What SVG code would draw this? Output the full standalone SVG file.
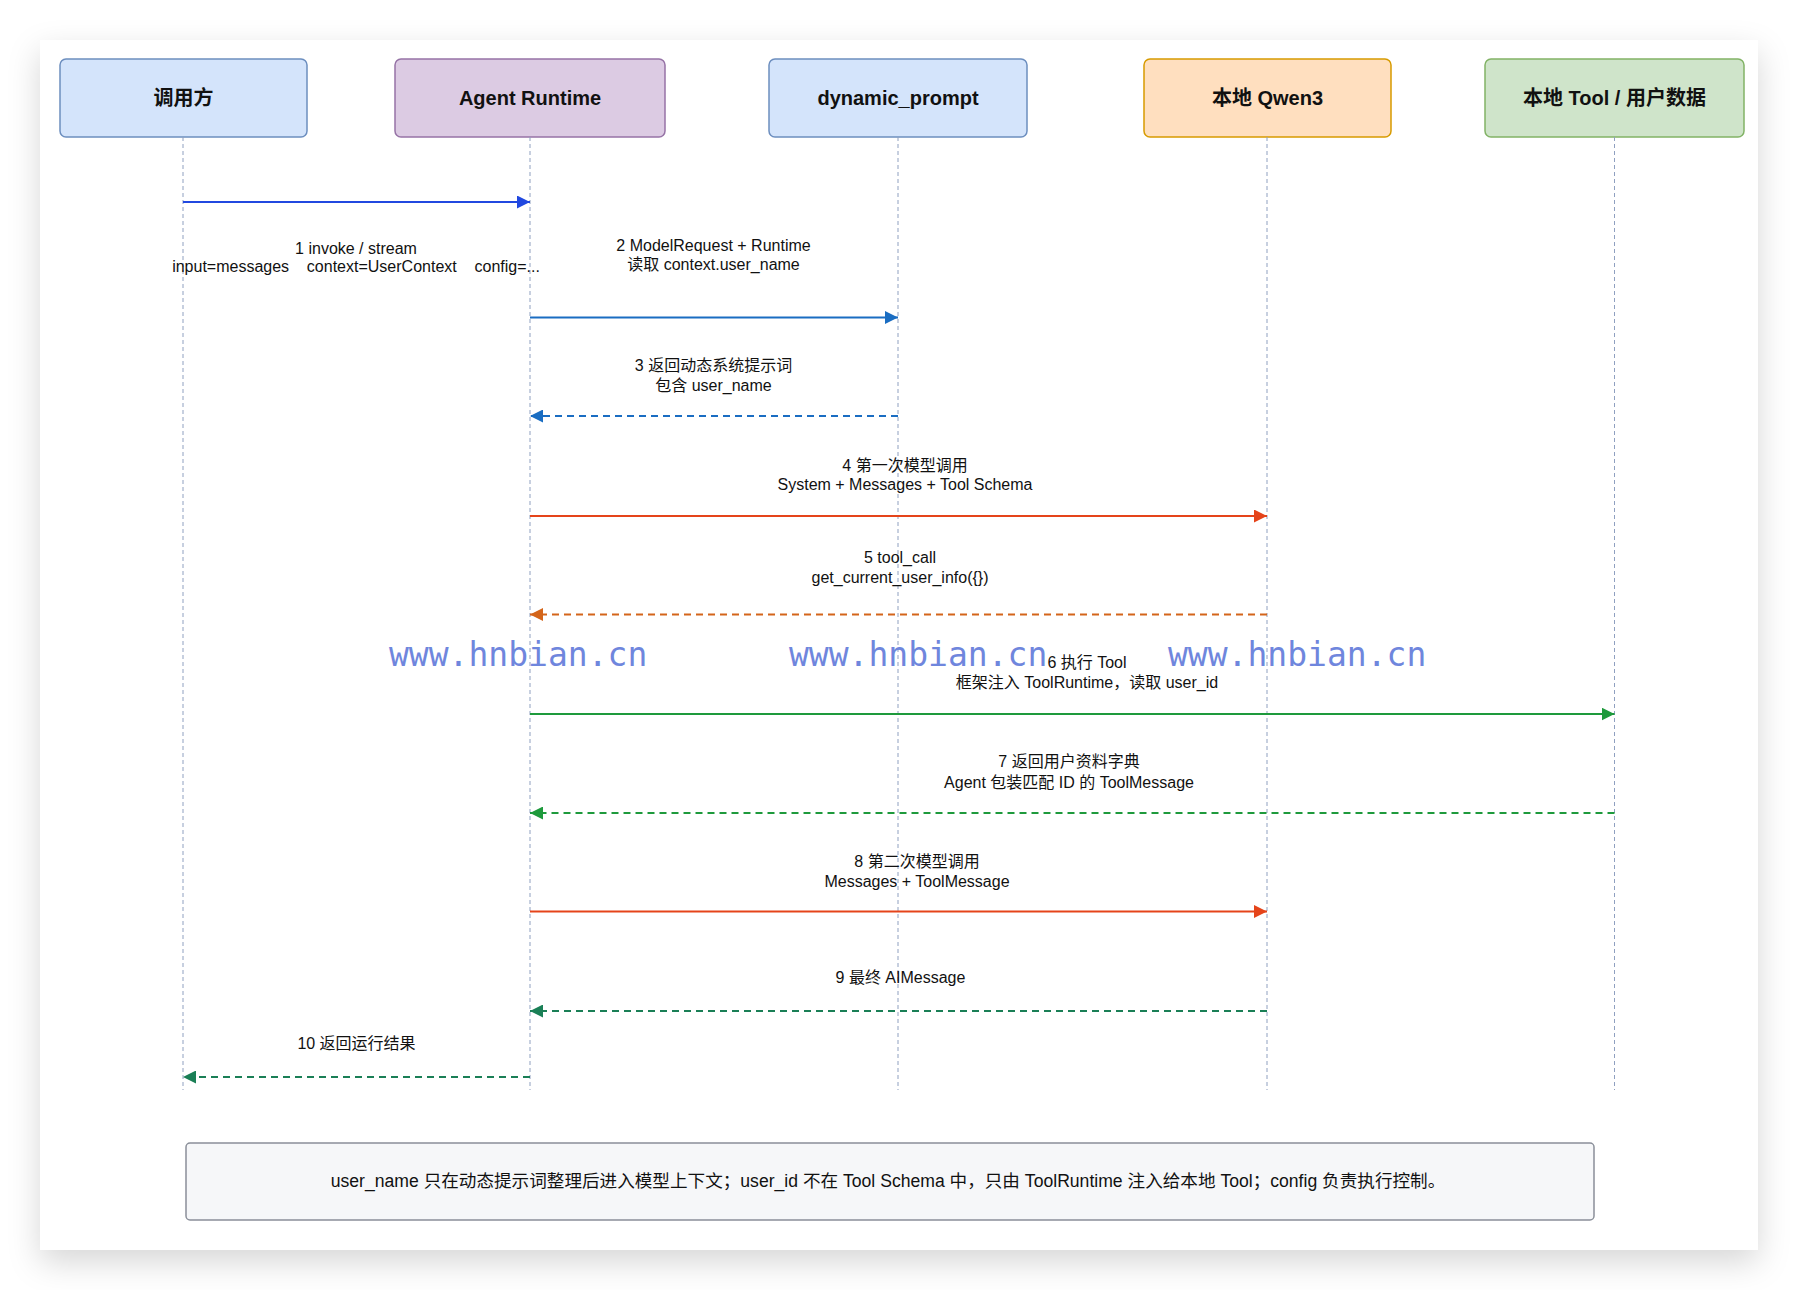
<svg xmlns="http://www.w3.org/2000/svg" width="1798" height="1290" viewBox="0 0 1798 1290">
<defs>
<filter id="shadow" x="-10%" y="-10%" width="120%" height="125%">
<feDropShadow dx="0" dy="12" stdDeviation="16" flood-color="#000" flood-opacity="0.16"/>
</filter>
<marker id="a-blue1" markerWidth="13" markerHeight="13" refX="13" refY="6.5" orient="auto" markerUnits="userSpaceOnUse"><path d="M0,0 L13,6.5 L0,13 Z" fill="#2148e0"/></marker>
<marker id="a-blue2" markerWidth="13" markerHeight="13" refX="13" refY="6.5" orient="auto" markerUnits="userSpaceOnUse"><path d="M0,0 L13,6.5 L0,13 Z" fill="#1a6dc2"/></marker>
<marker id="a-red" markerWidth="13" markerHeight="13" refX="13" refY="6.5" orient="auto" markerUnits="userSpaceOnUse"><path d="M0,0 L13,6.5 L0,13 Z" fill="#e5441a"/></marker>
<marker id="a-orange" markerWidth="13" markerHeight="13" refX="13" refY="6.5" orient="auto" markerUnits="userSpaceOnUse"><path d="M0,0 L13,6.5 L0,13 Z" fill="#d4651a"/></marker>
<marker id="a-green" markerWidth="13" markerHeight="13" refX="13" refY="6.5" orient="auto" markerUnits="userSpaceOnUse"><path d="M0,0 L13,6.5 L0,13 Z" fill="#1e9a3c"/></marker>
<marker id="a-teal" markerWidth="13" markerHeight="13" refX="13" refY="6.5" orient="auto" markerUnits="userSpaceOnUse"><path d="M0,0 L13,6.5 L0,13 Z" fill="#1a7f56"/></marker>
</defs>
<style>
.node rect{stroke-width:1.5}
.ntext{font-family:"Liberation Sans","Noto Sans CJK SC",sans-serif;font-size:20px;font-weight:bold;fill:#111;text-anchor:middle}
.life{stroke:#8fa0c0;stroke-width:1;stroke-dasharray:4 3;fill:none}
.msg{fill:none;stroke-width:2}
.dash{stroke-dasharray:7 5}
.lbl{font-family:"Liberation Sans","Noto Sans CJK SC",sans-serif;font-size:16px;fill:#111;text-anchor:middle}
.wm{font-family:"DejaVu Sans Mono","Liberation Mono",monospace;font-size:33px;fill:#6f86dd}
</style>
<rect x="0" y="0" width="1798" height="1290" fill="#ffffff"/>
<rect x="40" y="40" width="1718" height="1210" fill="#ffffff" filter="url(#shadow)"/>

<g id="node-caller" class="node">
<rect x="60" y="59" width="247" height="78" rx="6" fill="#d4e4fb" stroke="#6c8ebf"/>
<text class="ntext" x="183.5" y="104.5">调用方</text>
</g>
<g id="node-agent" class="node">
<rect x="395" y="59" width="270" height="78" rx="6" fill="#dccbe3" stroke="#9673a6"/>
<text class="ntext" x="530" y="104.5">Agent Runtime</text>
</g>
<g id="node-dynamic" class="node">
<rect x="769" y="59" width="258" height="78" rx="6" fill="#d4e4fb" stroke="#6c8ebf"/>
<text class="ntext" x="898" y="104.5">dynamic_prompt</text>
</g>
<g id="node-qwen" class="node">
<rect x="1144" y="59" width="247" height="78" rx="6" fill="#ffdfbf" stroke="#d79b00"/>
<text class="ntext" x="1267.5" y="104.5">本地 Qwen3</text>
</g>
<g id="node-tool" class="node">
<rect x="1485" y="59" width="259" height="78" rx="6" fill="#cfe4ca" stroke="#82b366"/>
<text class="ntext" x="1614.5" y="104.5">本地 Tool / 用户数据</text>
</g>

<g id="lifelines">
<line class="life" x1="183" y1="137" x2="183" y2="1090"/>
<line class="life" x1="530" y1="137" x2="530" y2="1090"/>
<line class="life" x1="898" y1="137" x2="898" y2="1090"/>
<line class="life" x1="1267" y1="137" x2="1267" y2="1090"/>
<line class="life" x1="1614.5" y1="137" x2="1614.5" y2="1090"/>
</g>

<g id="connectors">
<line class="msg" x1="183" y1="202" x2="530" y2="202" stroke="#2148e0" marker-end="url(#a-blue1)"/>
<line class="msg" x1="530" y1="317.5" x2="898" y2="317.5" stroke="#1a6dc2" marker-end="url(#a-blue2)"/>
<line class="msg dash" x1="898" y1="416" x2="530" y2="416" stroke="#1a6dc2" marker-end="url(#a-blue2)"/>
<line class="msg" x1="530" y1="516" x2="1267" y2="516" stroke="#e5441a" marker-end="url(#a-red)"/>
<line class="msg dash" x1="1267" y1="614.5" x2="530" y2="614.5" stroke="#d4651a" marker-end="url(#a-orange)"/>
<line class="msg" x1="530" y1="714" x2="1614.5" y2="714" stroke="#1e9a3c" marker-end="url(#a-green)"/>
<line class="msg dash" x1="1614.5" y1="813" x2="530" y2="813" stroke="#1e9a3c" marker-end="url(#a-green)"/>
<line class="msg" x1="530" y1="911.5" x2="1267" y2="911.5" stroke="#e5441a" marker-end="url(#a-red)"/>
<line class="msg dash" x1="1267" y1="1011" x2="530" y2="1011" stroke="#1a7f56" marker-end="url(#a-teal)"/>
<line class="msg dash" x1="530" y1="1077" x2="183" y2="1077" stroke="#1a7f56" marker-end="url(#a-teal)"/>
</g>

<g id="labels">
<text class="lbl" x="356" y="253.5">1 invoke / stream</text>
<text class="lbl" x="356" y="271.5" xml:space="preserve">input=messages    context=UserContext    config=...</text>
<text class="lbl" x="713.5" y="250.5">2 ModelRequest + Runtime</text>
<text class="lbl" x="713.5" y="269.5">读取 context.user_name</text>
<text class="lbl" x="713.5" y="371">3 返回动态系统提示词</text>
<text class="lbl" x="713.5" y="391">包含 user_name</text>
<text class="lbl" x="905" y="470.5">4 第一次模型调用</text>
<text class="lbl" x="905" y="490">System + Messages + Tool Schema</text>
<text class="lbl" x="900" y="563">5 tool_call</text>
<text class="lbl" x="900" y="583">get_current_user_info({})</text>
<text class="lbl" x="1087" y="667.5">6 执行 Tool</text>
<text class="lbl" x="1087" y="687.5">框架注入 ToolRuntime，读取 user_id</text>
<text class="lbl" x="1069" y="767">7 返回用户资料字典</text>
<text class="lbl" x="1069" y="787.5">Agent 包装匹配 ID 的 ToolMessage</text>
<text class="lbl" x="917" y="866.5">8 第二次模型调用</text>
<text class="lbl" x="917" y="886.5">Messages + ToolMessage</text>
<text class="lbl" x="900.5" y="983">9 最终 AIMessage</text>
<text class="lbl" x="356.5" y="1048.5">10 返回运行结果</text>
</g>

<g id="watermarks">
<text class="wm" x="389" y="666">www.hnbian.cn</text>
<text class="wm" x="789" y="666">www.hnbian.cn</text>
<text class="wm" x="1168" y="666">www.hnbian.cn</text>
</g>

<g id="note">
<rect x="186" y="1143" width="1408" height="77" rx="4" fill="#f6f7f9" stroke="#8a8f99" stroke-width="1.5"/>
<text class="lbl" x="888" y="1187" style="font-size:17.6px">user_name 只在动态提示词整理后进入模型上下文；user_id 不在 Tool Schema 中，只由 ToolRuntime 注入给本地 Tool；config 负责执行控制。</text>
</g>
</svg>
